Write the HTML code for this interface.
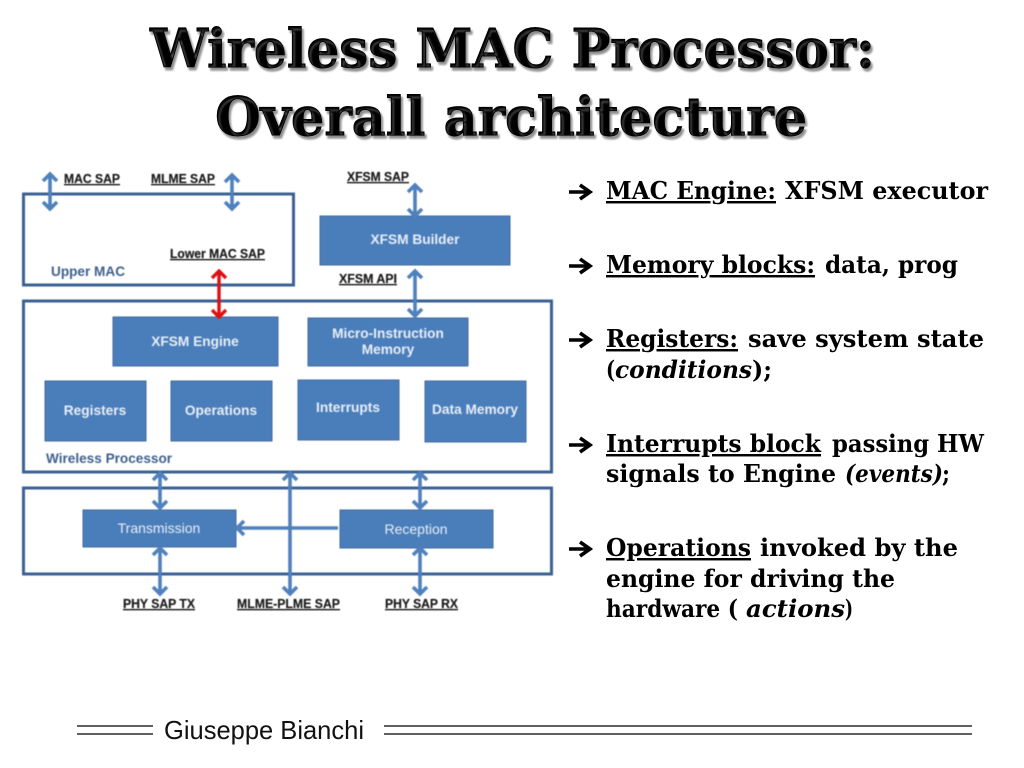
<!DOCTYPE html>
<html lang="en"><head><meta charset="utf-8"><title>Wireless MAC Processor</title>
<style>
html,body{margin:0;padding:0;background:#fff;width:1024px;height:768px;overflow:hidden}
svg{display:block}
.t{font-family:"DejaVu Serif","Liberation Serif",serif;font-weight:700;font-size:53px;fill:#000;stroke:#000;stroke-width:.9px;text-shadow:2px 3px 2px #888}
.b{font-family:"DejaVu Serif","Liberation Serif",serif;font-weight:700;font-size:24.5px;fill:#000}
.i{font-style:italic}
.n{font-family:"Liberation Sans",sans-serif;font-weight:700;font-size:13.7px;fill:#e8eef6;text-anchor:middle}
.l{font-family:"Liberation Sans",sans-serif;font-weight:700;font-size:12.5px;fill:#1c1c1c;stroke:#1c1c1c;stroke-width:.2px}
.c{font-family:"Liberation Sans",sans-serif;font-weight:700;font-size:13.6px;fill:#3f5f8f}
.box{fill:#fff;stroke:#3b6194;stroke-width:3}
.nd{fill:#4a7ebb;stroke:#41699c;stroke-width:1}
.ar{fill:none;stroke:#4f81bd;stroke-width:3.6}
.rd{fill:none;stroke:#e01010;stroke-width:3.4}
</style></head><body>
<svg width="1024" height="768" viewBox="0 0 1024 768" xmlns="http://www.w3.org/2000/svg">
<text class="t" x="150" y="67" textLength="725" lengthAdjust="spacingAndGlyphs">Wireless MAC Processor:</text>
<text class="t" x="215" y="135" textLength="592" lengthAdjust="spacingAndGlyphs">Overall architecture</text>

<g style="filter:blur(.5px)">
<rect class="box" x="23.5" y="194" width="270" height="91"/>
<rect class="box" x="23.5" y="301" width="528" height="171"/>
<rect class="box" x="23.5" y="488" width="528" height="86"/>
<rect class="nd" x="320" y="216" width="190" height="49"/>
<rect class="nd" x="113" y="317" width="165" height="49"/>
<rect class="nd" x="308" y="318" width="160" height="48"/>
<rect class="nd" x="45" y="381" width="101" height="60"/>
<rect class="nd" x="171" y="381" width="101" height="60"/>
<rect class="nd" x="298" y="380" width="101" height="60"/>
<rect class="nd" x="425" y="381" width="101" height="61"/>
<rect class="nd" x="83" y="510" width="153" height="37"/>
<rect class="nd" x="340" y="510" width="153" height="38"/>

<path class="ar" d="M50 174V209M43 181L50 174L57 181M43 202L50 209L57 202"/>
<path class="ar" d="M232 175V209M225 182L232 175L239 182M225 202L232 209L239 202"/>
<path class="rd" d="M219 271V317M212 278L219 271L226 278M212 310L219 317L226 310"/>
<path class="ar" d="M415 185V216M408 192L415 185L422 192M408 209L415 216L422 209"/>
<path class="ar" d="M415 271V316M408 278L415 271L422 278M408 309L415 316L422 309"/>
<path class="ar" d="M160 473V508M153 480L160 473L167 480M153 501L160 508L167 501"/>
<path class="ar" d="M290 473V594M283 480L290 473L297 480M283 587L290 594L297 587"/>
<path class="ar" d="M420 473V508M413 480L420 473L427 480M413 501L420 508L427 501"/>
<path class="ar" d="M160 548V594M153 555L160 548L167 555M153 587L160 594L167 587"/>
<path class="ar" d="M420 548V594M413 555L420 548L427 555M413 587L420 594L427 587"/>
<path class="ar" d="M338 528H237M244 521L237 528L244 535"/>

<text class="n" x="415" y="244">XFSM Builder</text>
<text class="n" x="195" y="346">XFSM Engine</text>
<text class="n" x="388" y="338">Micro-Instruction</text>
<text class="n" x="388" y="354">Memory</text>
<text class="n" x="95" y="415">Registers</text>
<text class="n" x="221" y="415">Operations</text>
<text class="n" x="348" y="412">Interrupts</text>
<text class="n" x="475" y="414">Data Memory</text>
<text class="n" x="159" y="533" style="font-weight:400;font-size:14px">Transmission</text>
<text class="n" x="416" y="534" style="font-weight:400;font-size:14px">Reception</text>

<text class="c" x="51" y="276">Upper MAC</text>
<text class="c" x="46" y="463">Wireless Processor</text>

<g text-decoration="underline">
<text class="l" x="64" y="183" textLength="56" lengthAdjust="spacingAndGlyphs">MAC SAP</text>
<text class="l" x="151" y="183" textLength="64" lengthAdjust="spacingAndGlyphs">MLME SAP</text>
<text class="l" x="170" y="258" textLength="95" lengthAdjust="spacingAndGlyphs">Lower MAC SAP</text>
<text class="l" x="347" y="181" textLength="62" lengthAdjust="spacingAndGlyphs">XFSM SAP</text>
<text class="l" x="339" y="283" textLength="58" lengthAdjust="spacingAndGlyphs">XFSM API</text>
<text class="l" x="123" y="608" textLength="72" lengthAdjust="spacingAndGlyphs">PHY SAP TX</text>
<text class="l" x="237" y="608" textLength="103" lengthAdjust="spacingAndGlyphs">MLME-PLME SAP</text>
<text class="l" x="385" y="608" textLength="73" lengthAdjust="spacingAndGlyphs">PHY SAP RX</text>
</g>
</g>

<g fill="none" stroke="#000">
<path d="M569 192H590" stroke-width="3.4"/><path d="M580 185L590 192L580 199" stroke-width="3.6"/>
<path d="M569 266H590" stroke-width="3.4"/><path d="M580 259L590 266L580 273" stroke-width="3.6"/>
<path d="M569 340H590" stroke-width="3.4"/><path d="M580 333L590 340L580 347" stroke-width="3.6"/>
<path d="M569 445H590" stroke-width="3.4"/><path d="M580 438L590 445L580 452" stroke-width="3.6"/>
<path d="M569 549H590" stroke-width="3.4"/><path d="M580 542L590 549L580 556" stroke-width="3.6"/>
</g>

<text class="b" x="606" y="199" text-decoration="underline" textLength="170" lengthAdjust="spacingAndGlyphs">MAC Engine:</text>
<text class="b" x="785" y="199" textLength="203" lengthAdjust="spacingAndGlyphs">XFSM executor</text>
<text class="b" x="606" y="273" text-decoration="underline" textLength="209" lengthAdjust="spacingAndGlyphs">Memory blocks:</text>
<text class="b" x="825" y="273" textLength="133" lengthAdjust="spacingAndGlyphs">data, prog</text>
<text class="b" x="606" y="347" text-decoration="underline" textLength="132" lengthAdjust="spacingAndGlyphs">Registers:</text>
<text class="b" x="748" y="347" textLength="236" lengthAdjust="spacingAndGlyphs">save system state</text>
<text class="b" x="606" y="378" textLength="9" lengthAdjust="spacingAndGlyphs">(</text>
<text class="b i" x="615" y="378" textLength="137" lengthAdjust="spacingAndGlyphs">conditions</text>
<text class="b" x="752" y="378" textLength="20" lengthAdjust="spacingAndGlyphs">);</text>
<text class="b" x="606" y="452" text-decoration="underline" textLength="215" lengthAdjust="spacingAndGlyphs">Interrupts block</text>
<text class="b" x="832" y="452" textLength="152" lengthAdjust="spacingAndGlyphs">passing HW</text>
<text class="b" x="606" y="482" textLength="230" lengthAdjust="spacingAndGlyphs">signals to Engine</text>
<text class="b i" x="845" y="482" textLength="98" lengthAdjust="spacingAndGlyphs">(events)</text>
<text class="b" x="942" y="482" textLength="8" lengthAdjust="spacingAndGlyphs">;</text>
<text class="b" x="606" y="556" text-decoration="underline" textLength="145" lengthAdjust="spacingAndGlyphs">Operations</text>
<text class="b" x="760" y="556" textLength="198" lengthAdjust="spacingAndGlyphs">invoked by the</text>
<text class="b" x="606" y="587" textLength="289" lengthAdjust="spacingAndGlyphs">engine for driving the</text>
<text class="b" x="606" y="617" textLength="132" lengthAdjust="spacingAndGlyphs">hardware (</text>
<text class="b i" x="746" y="617" textLength="99" lengthAdjust="spacingAndGlyphs">actions</text>
<text class="b" x="845" y="617" textLength="8" lengthAdjust="spacingAndGlyphs">)</text>

<g stroke="#000" stroke-width="1.2">
<path d="M77 726H153M77 734H153M384 726H972M384 734H972"/>
</g>
<text x="164" y="739" style="font-family:'Liberation Sans',sans-serif;font-size:26px;fill:#111" textLength="200" lengthAdjust="spacingAndGlyphs">Giuseppe Bianchi</text>
</svg>
</body></html>
